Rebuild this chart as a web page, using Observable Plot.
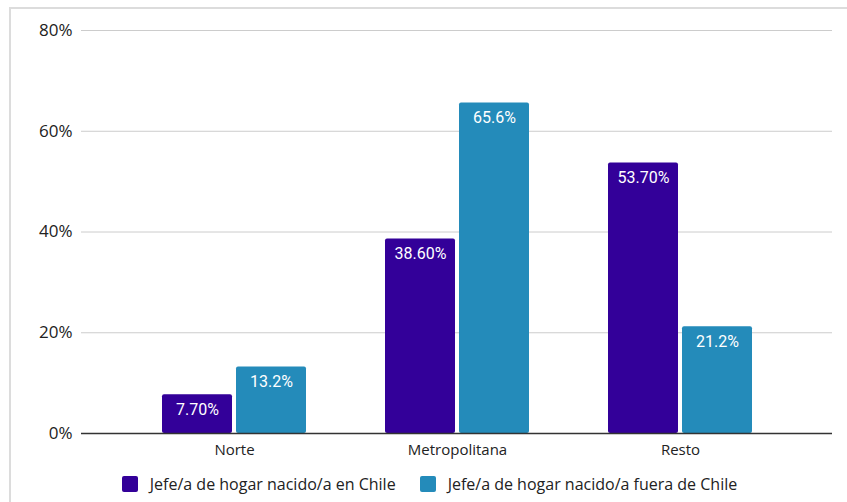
<!DOCTYPE html>
<html>
<head>
<meta charset="utf-8">
<script src="https://cdn.jsdelivr.net/npm/d3@7"></script>
<script src="https://cdn.jsdelivr.net/npm/@observablehq/plot@0.6"></script>
<style>
  html, body { margin: 0; padding: 0; background: #fff; overflow: hidden; width: 847px; height: 502px; }
  #frame { position: absolute; left: 9px; top: 7px; width: 900px; height: 600px; border-left: 2px solid #dcdcdc; border-top: 2px solid #dcdcdc; box-sizing: border-box; pointer-events: none; }
  #chart { position: absolute; left: 0; top: 0; }
  #legend { position: absolute; left: 0; top: 473px; width: 847px; padding-left: 12px; box-sizing: border-box; display: flex; justify-content: center; font-family: "Open Sans", sans-serif; font-size: 16px; color: #222; }
  .item { display: flex; align-items: center; }
  .sw { width: 16px; height: 16px; border-radius: 2px; margin-right: 12px; flex: none; }
</style>
</head>
<body>
<div id="chart"></div>
<div id="legend"></div>
<div id="frame"></div>
<script>
const regions = ["Norte", "Metropolitana", "Resto"];
const seriesNames = ["Jefe/a de hogar nacido/a en Chile", "Jefe/a de hogar nacido/a fuera de Chile"];
const chileValues = [7.7, 38.6, 53.7];
const fueraValues = [13.2, 65.6, 21.2];
const chileLabels = ["7.70%", "38.60%", "53.70%"];
const fueraLabels = ["13.2%", "65.6%", "21.2%"];
const yTicks = [0, 20, 40, 60, 80];
const colors = ["#330099", "#248bba"];

const chile = regions.map((r, i) => ({region: r, value: chileValues[i], label: chileLabels[i]}));
const fuera = regions.map((r, i) => ({region: r, value: fueraValues[i], label: fueraLabels[i]}));

const font = "'Open Sans', sans-serif";
const plot = Plot.plot({
  width: 847,
  height: 465,
  marginLeft: 81,
  marginRight: 15,
  marginTop: 30,
  marginBottom: 32,
  style: {fontFamily: font, fontSize: "15px", color: "#222", background: "transparent"},
  x: {domain: regions, padding: 0.356, label: null},
  y: {domain: [0, 80], label: null},
  marks: [
    Plot.ruleY(yTicks.filter(d => d > 0), {stroke: "#cccccc", strokeWidth: 1}),
    Plot.axisY({ticks: yTicks, tickSize: 0, tickPadding: 9, tickFormat: d => d + "%", fontSize: 17, label: null}),
    Plot.axisX({tickSize: 0, tickPadding: 11, fontSize: 15, label: null}),
    Plot.barY(chile, {x: "region", y: "value", fill: colors[0], insetRight: 74, rx: 2}),
    Plot.barY(fuera, {x: "region", y: "value", fill: colors[1], insetLeft: 74, rx: 2}),
    Plot.ruleY([0], {stroke: "#333333", strokeWidth: 1.5}),
    Plot.text(chile, {x: "region", y: "value", text: "label", dx: -37, dy: 15, fill: "white", fontSize: 16, fontFamily: "Roboto"}),
    Plot.text(fuera, {x: "region", y: "value", text: "label", dx: 37, dy: 15, fill: "white", fontSize: 16, fontFamily: "Roboto"})
  ]
});
document.getElementById("chart").appendChild(plot);

const legend = document.getElementById("legend");
seriesNames.forEach((name, i) => {
  const item = document.createElement("div");
  item.className = "item";
  item.style.marginRight = i === 0 ? "24px" : "0";
  const sw = document.createElement("div");
  sw.className = "sw";
  sw.style.background = colors[i];
  const t = document.createElement("span");
  t.textContent = name;
  item.appendChild(sw);
  item.appendChild(t);
  legend.appendChild(item);
});
</script>
</body>
</html>
